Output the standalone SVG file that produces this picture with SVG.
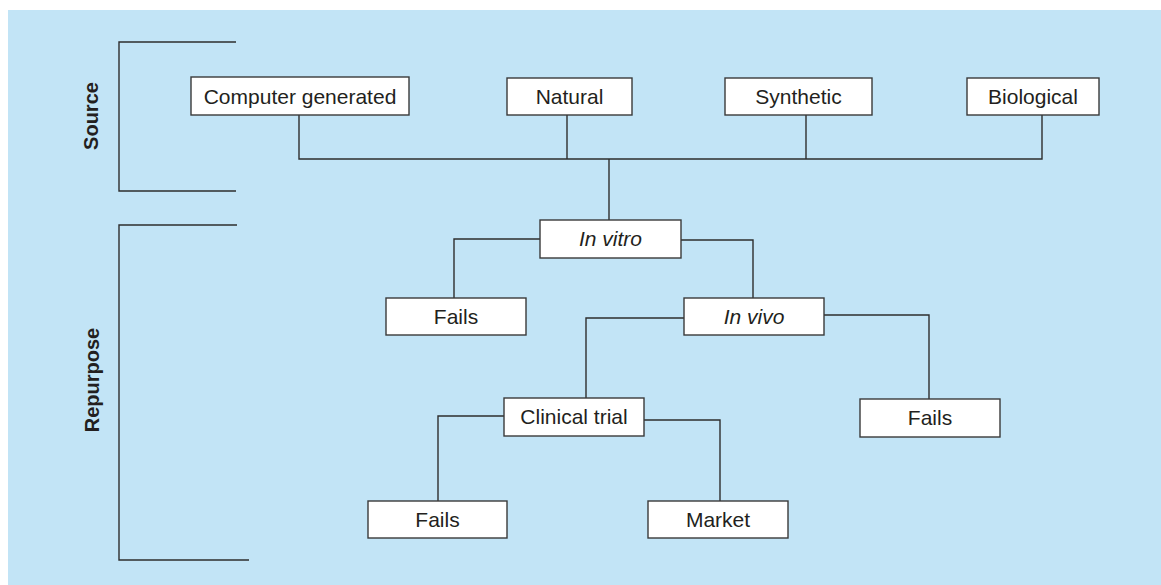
<svg xmlns="http://www.w3.org/2000/svg" width="1161" height="585" viewBox="0 0 1161 585">
<style>
.bg{fill:#c2e4f6}
.box{fill:#ffffff;stroke:#3a3a3a;stroke-width:1.4}
.t{font-family:"Liberation Sans",Arial,sans-serif;font-size:21px;fill:#231f20;text-anchor:middle}
.i{font-style:italic}
.lbl{font-family:"Liberation Sans",Arial,sans-serif;font-size:20px;font-weight:bold;fill:#231f20;text-anchor:middle}
.ln{fill:none;stroke:#2e2e2e;stroke-width:1.4}
</style>
<rect class="bg" x="8" y="10" width="1153" height="575"/>
<g id="brackets">
<path class="ln" d="M236,42 H119 V191 H236"/>
<path class="ln" d="M237,225 H119 V560 H249"/>
</g>
<g id="label-source"><text class="lbl" transform="translate(98,116) rotate(-90)">Source</text></g>
<g id="label-repurpose"><text class="lbl" transform="translate(99,380) rotate(-90)">Repurpose</text></g>
<g id="connectors">
<path class="ln" d="M299,115 V159 H1042 V115"/>
<path class="ln" d="M567,115 V159"/>
<path class="ln" d="M806,115 V159"/>
<path class="ln" d="M609,159 V220"/>
<path class="ln" d="M540,239 H454 V298"/>
<path class="ln" d="M681,240 H753 V298"/>
<path class="ln" d="M684,318 H586 V398"/>
<path class="ln" d="M824,315 H929 V399"/>
<path class="ln" d="M504,416 H438 V501"/>
<path class="ln" d="M644,420 H720 V501"/>
</g>
<g id="computer-generated"><rect class="box" x="191" y="77" width="218" height="38"/><text class="t" x="300" y="104">Computer generated</text></g>
<g id="natural"><rect class="box" x="507" y="78" width="125" height="37"/><text class="t" x="569.5" y="104">Natural</text></g>
<g id="synthetic"><rect class="box" x="725" y="78" width="147" height="37"/><text class="t" x="798.5" y="104">Synthetic</text></g>
<g id="biological"><rect class="box" x="967" y="78" width="132" height="37"/><text class="t" x="1033" y="104">Biological</text></g>
<g id="in-vitro"><rect class="box" x="540" y="220" width="141" height="38"/><text class="t i" x="610.5" y="246">In vitro</text></g>
<g id="fails-1"><rect class="box" x="386" y="298" width="140" height="37"/><text class="t" x="456" y="324">Fails</text></g>
<g id="in-vivo"><rect class="box" x="684" y="298" width="140" height="37"/><text class="t i" x="754" y="324">In vivo</text></g>
<g id="clinical-trial"><rect class="box" x="504" y="398" width="140" height="38"/><text class="t" x="574" y="424">Clinical trial</text></g>
<g id="fails-2"><rect class="box" x="860" y="399" width="140" height="38"/><text class="t" x="930" y="425">Fails</text></g>
<g id="fails-3"><rect class="box" x="368" y="501" width="139" height="37"/><text class="t" x="437.5" y="527">Fails</text></g>
<g id="market"><rect class="box" x="648" y="501" width="140" height="37"/><text class="t" x="718" y="527">Market</text></g>
</svg>
